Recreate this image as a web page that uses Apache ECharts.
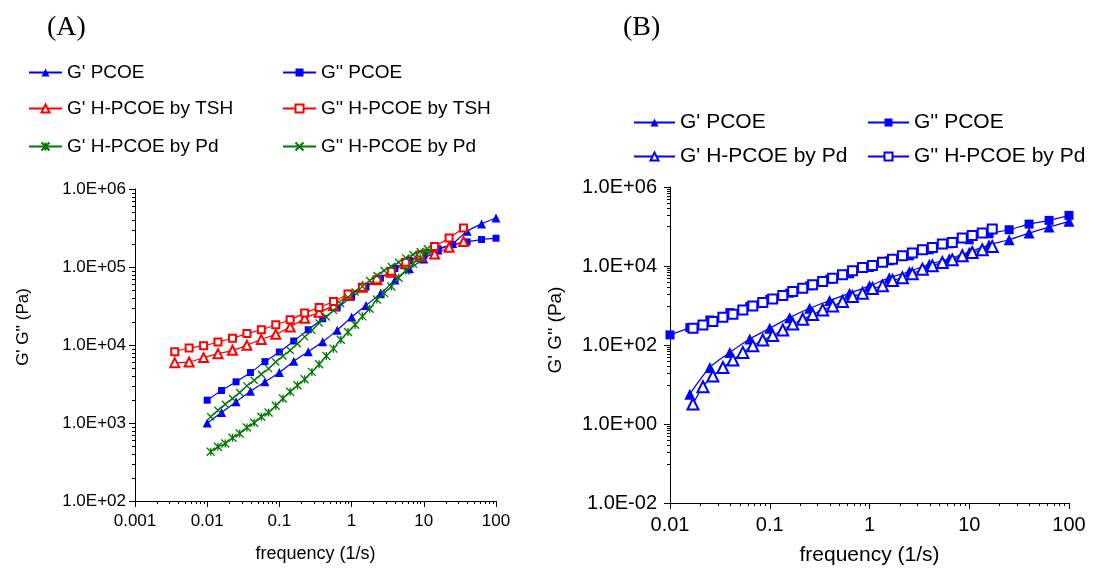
<!DOCTYPE html>
<html><head><meta charset="utf-8">
<script src="https://cdn.jsdelivr.net/npm/echarts@6/dist/echarts.min.js"></script>
<style>html,body{margin:0;padding:0;background:#fff;width:1094px;height:571px;overflow:hidden}
#a{position:absolute;left:0;top:0;width:530px;height:571px}
#b{position:absolute;left:530px;top:0;width:564px;height:571px}</style>
</head><body><div id="a"></div><div id="b"></div>
<script>
// ---------- DATA: chart (A) ----------
const freqPCOE_A = [0.01,0.0158,0.0251,0.0398,0.0631,0.1,0.158,0.251,0.398,0.631,1,1.58,2.51,3.98,6.31,10,15.8,25.1,39.8,63.1,100];
const gp_PCOE_A  = [1000,1360,1870,2550,3370,4430,6180,8220,11000,15500,22800,32200,45400,67900,94800,127000,165000,200000,287000,357000,425000];
const gpp_PCOE_A = [1960,2610,3370,4430,6120,8130,11250,15700,21700,29800,41100,55200,71900,95700,121000,140000,171000,194000,210000,225000,234000];
const freqTSH = [0.00355,0.00562,0.00891,0.0141,0.0224,0.0355,0.0562,0.0891,0.141,0.224,0.355,0.562,0.891,1.41,2.24,3.55,5.62,8.91,14.1,22.4,35.5];
const gp_TSH  = [5940,6060,6890,7740,8550,9900,11800,13700,17000,22000,26200,32200,43200,55200,68500,85900,110000,136000,147000,179000,212000];
const gpp_TSH = [8220,9160,9800,10900,12200,14000,15700,18200,21100,25700,30300,36200,44900,55200,68500,88500,115000,143000,183000,236000,317000];
const freqPd_A = [0.0112,0.0141,0.0178,0.0224,0.0282,0.0355,0.0447,0.0562,0.0708,0.0891,0.112,0.141,0.178,0.224,0.282,0.355,0.447,0.562,0.708,0.891,1.12,1.41,1.78,2.24,2.82,3.55,4.47,5.62,7.08,8.91,11.2];
const gp_Pd_A  = [428,495,547,646,734,876,1005,1200,1360,1660,2060,2510,3050,3640,4520,5660,7230,8980,11700,14700,18200,23300,29200,38400,46300,56300,72700,90200,110000,131000,155000];
const gpp_Pd_A = [1200,1460,1740,2060,2460,2990,3530,4220,4980,6060,7230,8550,10400,12700,15400,19100,22800,27800,33800,41100,47700,56300,67200,77900,90200,101500,115000,131000,144500,157900,171000];

// ---------- DATA: chart (B) ----------
const freqGp_PCOE_B  = [0.0158,0.0251,0.0398,0.0631,0.1,0.158,0.251,0.398,0.631,1,1.58,2.51,3.98,6.31,10,15.8,25.1,39.8,63.1,100];
const gp_PCOE_B      = [5.7,27,65,142,265,493,851,1330,2050,3140,5010,7250,11100,15200,22400,34400,46100,68100,96700,135000];
const freqGpp_PCOE_B = [0.01,0.0158,0.0251,0.0398,0.0631,0.1,0.158,0.251,0.398,0.631,1,1.58,2.51,3.98,6.31,10,15.8,25.1,39.8,63.1,100];
const gpp_PCOE_B     = [180,275,431,661,939,1440,2050,3140,4630,6330,9160,13500,18100,25700,36500,46100,65500,82700,115000,143000,191000];
const freqPd_B = [0.017,0.0214,0.0269,0.0339,0.0427,0.0537,0.0676,0.0851,0.107,0.135,0.17,0.214,0.269,0.339,0.427,0.537,0.676,0.851,1.07,1.35,1.7,2.14,2.69,3.39,4.27,5.37,6.76,8.51,10.7,13.5,17];
const gp_Pd_B  = [3.2,8.8,16.4,27,41.6,65,96,134,173,240,341,448,589,773,976,1260,1680,2050,2690,3140,4290,5010,6330,8310,10100,12300,14300,18100,22000,25700,31300];
const gpp_Pd_B = [265,321,391,504,600,773,976,1190,1470,1790,2250,2740,3330,4050,4920,5970,7540,9160,10300,12500,14900,18100,21200,25700,29500,35800,39500,50800,59400,68100,85900];

// axis ranges / labels
const xRangeA = [0.001, 100], yRangeA = [100, 1e6];
const xRangeB = [0.01, 100],  yRangeB = [0.01, 1e6];
const yAxisTitle = "G' G'' (Pa)";
const xAxisTitle = 'frequency (1/s)';

const FONT = '"Liberation Sans", Arial, sans-serif';
const SERIF = '"Liberation Serif", "Times New Roman", serif';
const BLUE = '#0000ff', RED = '#ff0000', GREEN = '#007a00';
const STAR = 'path://M5,0L5,10M0,0L10,10M10,0L0,10';
const CROSS = 'path://M0,0L10,10M10,0L0,10';

function yFmt(v){ const e = Math.round(Math.log10(v)); return '1.0E' + (e < 0 ? '-' : '+') + String(Math.abs(e)).padStart(2,'0'); }
function xFmt(v){ return String(Number(Number(v).toPrecision(1))); }

function minorVals(d0, d1){ const out=[]; for(let d=d0; d<=d1; d++){ for(let m=2;m<=9;m++) out.push(m*Math.pow(10,d)); } return out; }
function minorValsB(){ const out=[]; for(const j of [-2,0,2,4]){ for(let k=1;k<=9;k++) out.push(k*Math.pow(10,j+1)); } return out; }

function tickSeries(dim, values, fixed, len){
  return {type:'custom', coordinateSystem:'cartesian2d', silent:true, clip:false, z:1,
    data: values.map(v => dim==='y' ? [fixed, v] : [v, fixed]),
    encode:{x:0, y:1},
    renderItem: function(params, api){
      const p = api.coord([api.value(0), api.value(1)]);
      let shape;
      if (dim==='y'){ const y = Math.round(p[1]) + 0.5; shape = {x1:p[0]-len, y1:y, x2:p[0], y2:y}; }
      else { const x = Math.round(p[0]) + 0.5; shape = {x1:x, y1:p[1], x2:x, y2:p[1]+len}; }
      return {type:'line', shape:shape, style:{stroke:'#000', lineWidth:1}};
    }};
}

function lineSeries(name, xs, ys, color, symbol, size, empty){
  const itemStyle = {color: color};
  if (symbol.indexOf('path://')===0){ itemStyle.borderColor = color; itemStyle.borderWidth = 1.3; }
  if (empty){ itemStyle.borderWidth = 1.2; itemStyle.borderColor = color; }
  return {name:name, type:'line', smooth:0.3, symbol:symbol, symbolSize:size, showSymbol:true,
    data: xs.map((x,i)=>[x, ys[i]]), lineStyle:{color:color, width:1.2}, itemStyle:itemStyle, z:3, animation:false};
}

function leg(name, left, top, w, fs){
  return {data:[name], left:left, top:top, padding:0, itemWidth:w, itemHeight:10, selectedMode:false,
    textStyle:{fontSize:fs, color:'#000', fontFamily:FONT}};
}

function axisX(range, split, fs, gap){
  return {type:'log', logBase:10, min:range[0], max:range[1], splitNumber:split,
    axisLine:{onZero:false, lineStyle:{color:'#000', width:1}},
    axisTick:{show:true, inside:false, length:6, lineStyle:{color:'#000'}},
    axisLabel:{formatter:xFmt, fontSize:fs, color:'#000', fontFamily:FONT, margin:12},
    splitLine:{show:false}, minorTick:{show:false},
    name:xAxisTitle, nameLocation:'middle', nameGap:gap, nameTextStyle:{fontSize:fs+1, color:'#000', fontFamily:FONT}};
}
function axisY(range, interval, fs, margin){
  return {type:'log', logBase:10, min:range[0], max:range[1], interval:interval,
    axisLine:{onZero:false, lineStyle:{color:'#000', width:1}},
    axisTick:{show:true, inside:false, length:6, lineStyle:{color:'#000'}},
    axisLabel:{formatter:yFmt, fontSize:fs, color:'#000', fontFamily:FONT, margin:margin},
    splitLine:{show:false}, minorTick:{show:false}};
}
function yTitle(x, y, fs){
  return {type:'text', x:x, y:y, rotation:Math.PI/2, silent:true,
    style:{text:yAxisTitle, fill:'#000', font: fs + 'px ' + FONT, align:'center', verticalAlign:'middle', textAlign:'center', textVerticalAlign:'middle'}};
}

// ---------- Chart A ----------
const chartA = echarts.init(document.getElementById('a'), null, {renderer:'canvas'});
chartA.setOption({
  animation:false, backgroundColor:'#fff',
  title:{text:'(A)', left:47, top:14, padding:0, textStyle:{fontFamily:SERIF, fontSize:28, fontWeight:'normal', color:'#000'}},
  grid:{left:135, top:189, width:361, height:312},
  xAxis: axisX(xRangeA, 5, 17, 44),
  yAxis: axisY(yRangeA, 1, 17, 9),
  graphic:[yTitle(23, 327, 17)],
  legend:[
    leg("G' PCOE", 28, 63, 33, 19), leg("G'' PCOE", 282, 63, 33, 19),
    leg("G' H-PCOE by TSH", 28, 99, 33, 19), leg("G'' H-PCOE by TSH", 282, 99, 33, 19),
    leg("G' H-PCOE by Pd", 28, 137, 33, 19), leg("G'' H-PCOE by Pd", 282, 137, 33, 19)
  ],
  series:[
    lineSeries("G' PCOE", freqPCOE_A, gp_PCOE_A, BLUE, 'triangle', 9),
    lineSeries("G'' PCOE", freqPCOE_A, gpp_PCOE_A, BLUE, 'rect', 7),
    lineSeries("G' H-PCOE by TSH", freqTSH, gp_TSH, RED, 'emptyTriangle', 9, true),
    lineSeries("G'' H-PCOE by TSH", freqTSH, gpp_TSH, RED, 'emptyRect', 7, true),
    lineSeries("G' H-PCOE by Pd", freqPd_A, gp_Pd_A, GREEN, STAR, 8),
    lineSeries("G'' H-PCOE by Pd", freqPd_A, gpp_Pd_A, GREEN, CROSS, 7),
    tickSeries('y', minorVals(2,5), xRangeA[0], 3),
    tickSeries('x', minorVals(-3,1), yRangeA[0], 3)
  ]
});

// ---------- Chart B ----------
const chartB = echarts.init(document.getElementById('b'), null, {renderer:'canvas'});
chartB.setOption({
  animation:false, backgroundColor:'#fff',
  title:{text:'(B)', left:93, top:14, padding:0, textStyle:{fontFamily:SERIF, fontSize:28, fontWeight:'normal', color:'#000'}},
  grid:{left:140, top:187, width:399, height:316},
  xAxis: axisX(xRangeB, 4, 20, 42),
  yAxis: axisY(yRangeB, 2, 20, 13),
  graphic:[yTitle(26, 330, 19)],
  legend:[
    leg("G' PCOE", 103, 112, 41, 21), leg("G'' PCOE", 337, 112, 41, 21),
    leg("G' H-PCOE by Pd", 103, 146, 41, 21), leg("G'' H-PCOE by Pd", 337, 146, 41, 21)
  ],
  series:[
    lineSeries("G' PCOE", freqGp_PCOE_B, gp_PCOE_B, BLUE, 'triangle', 11),
    lineSeries("G'' PCOE", freqGpp_PCOE_B, gpp_PCOE_B, BLUE, 'rect', 9),
    lineSeries("G' H-PCOE by Pd", freqPd_B, gp_Pd_B, BLUE, 'emptyTriangle', 11, true),
    lineSeries("G'' H-PCOE by Pd", freqPd_B, gpp_Pd_B, BLUE, 'emptyRect', 9, true),
    tickSeries('y', minorValsB(), xRangeB[0], 3),
    tickSeries('x', minorVals(-2,1), yRangeB[0], 3)
  ]
});
</script></body></html>
